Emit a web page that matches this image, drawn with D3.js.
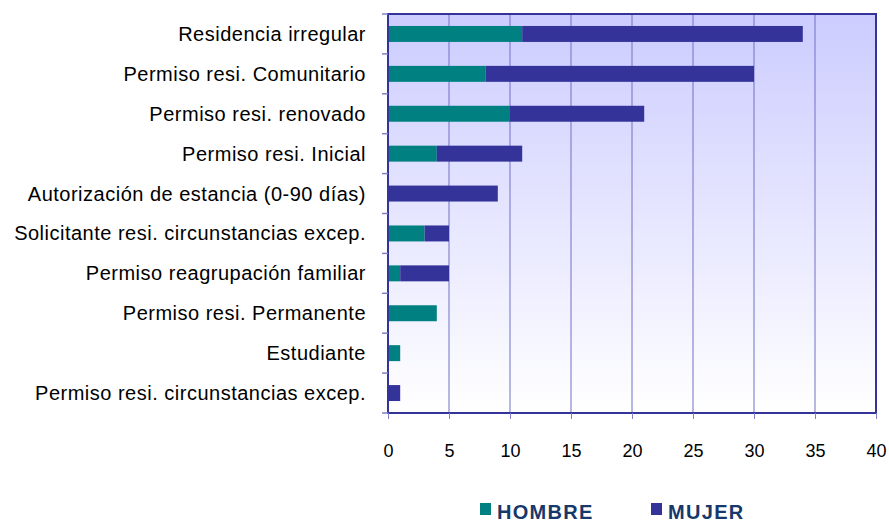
<!DOCTYPE html>
<html lang="es">
<head>
<meta charset="UTF-8">
<title>Permisos de residencia</title>
<script src="https://d3js.org/d3.v7.min.js"></script>
<style>
  body { margin: 0; background: #fff; }
  svg text { font-family: "Liberation Sans", Arial, sans-serif; }
</style>
</head>
<body>
<svg id="chart" width="889" height="522"></svg>
<script>
// datos
var categorias = [
  "Residencia irregular",
  "Permiso resi. Comunitario",
  "Permiso resi. renovado",
  "Permiso resi. Inicial",
  "Autorización de estancia (0-90 días)",
  "Solicitante resi. circunstancias excep.",
  "Permiso reagrupación familiar",
  "Permiso resi. Permanente",
  "Estudiante",
  "Permiso resi. circunstancias excep."
];
var hombre = [11, 8, 10, 4, 0, 3, 1, 4, 1, 0];
var mujer  = [23, 22, 11, 7, 9, 2, 4, 0, 0, 1];
var series = ["HOMBRE", "MUJER"];
var colores = ["#008080", "#333399"];
var xTicks = [0, 5, 10, 15, 20, 25, 30, 35, 40];

var margin = { top: 14, right: 13, bottom: 109, left: 388 };
var svg = d3.select("#chart");
var width = 889 - margin.left - margin.right;
var height = 522 - margin.top - margin.bottom;

var defs = svg.append("defs");
var grad = defs.append("linearGradient")
    .attr("id", "fondo")
    .attr("x1", "0").attr("y1", "0").attr("x2", "0").attr("y2", "1");
grad.append("stop").attr("offset", "0%").attr("stop-color", "#ccccff");
grad.append("stop").attr("offset", "100%").attr("stop-color", "#ffffff");

var g = svg.append("g")
    .attr("transform", "translate(" + margin.left + "," + margin.top + ")");

var x = d3.scaleLinear().domain([0, 40]).range([0, width]);
var y = d3.scaleBand().domain(categorias).range([0, height]).paddingInner(0.6).paddingOuter(0.3);
var yBand = d3.scaleBand().domain(categorias).range([0, height]);

g.append("rect")
    .attr("width", width).attr("height", height)
    .attr("fill", "url(#fondo)");

// grid
g.selectAll(".grid")
  .data(xTicks.slice(1, -1))
  .enter().append("line")
    .attr("x1", function(d) { return x(d); })
    .attr("x2", function(d) { return x(d); })
    .attr("y1", 0).attr("y2", height)
    .attr("stroke", "#7070c8").attr("stroke-width", 1);

// barras apiladas
var datos = categorias.map(function(c, i) {
  return { cat: c, HOMBRE: hombre[i], MUJER: mujer[i] };
});
var stack = d3.stack().keys(series)(datos);

g.selectAll(".serie")
  .data(stack)
  .enter().append("g")
    .attr("fill", function(d, i) { return colores[i]; })
  .selectAll("rect")
  .data(function(d) { return d; })
  .enter().append("rect")
    .filter(function(d) { return d[1] > d[0]; })
    .attr("x", function(d) { return x(d[0]); })
    .attr("y", function(d) { return y(d.data.cat); })
    .attr("width", function(d) { return x(d[1]) - x(d[0]); })
    .attr("height", y.bandwidth());

// borde
g.append("rect")
    .attr("width", width).attr("height", height)
    .attr("fill", "none")
    .attr("stroke", "#333399").attr("stroke-width", 2);

// eje x
var xAxis = g.append("g")
    .attr("transform", "translate(0," + height + ")")
    .call(d3.axisBottom(x).tickValues(xTicks).tickSize(6).tickPadding(25));
xAxis.select(".domain").remove();
xAxis.selectAll("line").attr("stroke", "#8080c8");
xAxis.selectAll("text")
    .attr("font-size", "18px").attr("fill", "#000")
    .style("font-family", "Liberation Sans, Arial, sans-serif");

// eje y: marcas en los limites de categoria
g.selectAll(".ytick")
  .data(categorias.concat(["fin"]))
  .enter().append("line")
    .attr("x1", -6).attr("x2", 0)
    .attr("y1", function(d, i) { return i * yBand.step(); })
    .attr("y2", function(d, i) { return i * yBand.step(); })
    .attr("stroke", "#8080c8").attr("stroke-width", 1.5);

g.selectAll(".ylabel")
  .data(categorias)
  .enter().append("text")
    .attr("x", -22)
    .attr("y", function(d) { return yBand(d) + yBand.bandwidth() / 2; })
    .attr("dy", "0.35em")
    .attr("text-anchor", "end")
    .attr("font-size", "20px")
    .attr("letter-spacing", "0.5px")
    .attr("fill", "#000")
    .text(function(d) { return d; });

// leyenda
var leyX = [480, 651];
var ley = svg.selectAll(".ley")
  .data(series)
  .enter().append("g")
    .attr("transform", function(d, i) { return "translate(" + leyX[i] + ",503)"; });
ley.append("rect")
    .attr("width", 11).attr("height", 12)
    .attr("fill", function(d, i) { return colores[i]; });
ley.append("text")
    .attr("x", 17).attr("y", 16)
    .attr("font-size", "20px").attr("font-weight", "bold")
    .attr("letter-spacing", "1.3px")
    .attr("fill", "#17386b")
    .text(function(d) { return d; });
</script>
</body>
</html>
